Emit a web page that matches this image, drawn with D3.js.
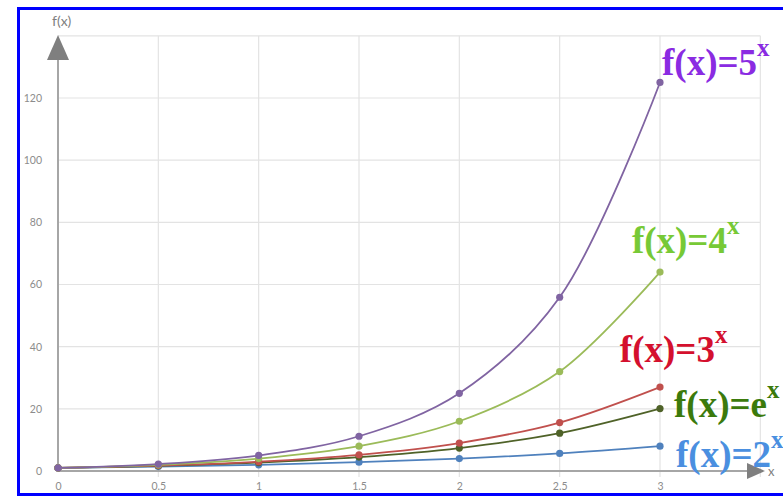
<!DOCTYPE html>
<html>
<head>
<meta charset="utf-8">
<script src="https://cdn.jsdelivr.net/npm/d3@7"></script>
<style>
  body { margin: 0; background: #fff; }
  svg { display: block; }
</style>
</head>
<body>
<div class="chart"></div>
<script>
// data
var xValues = [0, 0.5, 1, 1.5, 2, 2.5, 3]
var pow2 = [1, 1.41, 2, 2.83, 4, 5.66, 8]
var powE = [1, 1.65, 2.72, 4.48, 7.39, 12.18, 20.09]
var pow3 = [1, 1.73, 3, 5.2, 9, 15.59, 27]
var pow4 = [1, 2, 4, 8, 16, 32, 64]
var pow5 = [1, 2.24, 5, 11.18, 25, 55.9, 125]

var xTicks = [0, 0.5, 1, 1.5, 2, 2.5, 3]
var yTicks = [0, 20, 40, 60, 80, 100, 120]
var xGrid = [0.5, 1, 1.5, 2, 2.5, 3, 3.5]
var yGrid = [20, 40, 60, 80, 100, 120, 140]

var seriesBase = ['5', '4', '3', 'e', '2']
var seriesVals = [pow5, pow4, pow3, powE, pow2]

var lineColor = ['#8064a2', '#9bbb59', '#c0504d', '#4f6228', '#4f81bd']
var labelColor = ['#8a2be2', '#77c936', '#d4102e', '#3b7a0c', '#4a8fe0']
// label anchor (data coords) for each series
var labelPos = [[3.01, 127.5], [2.86, 70], [2.8, 35], [3.07, 17.5], [3.08, 1.2]]

var W = 783, H = 498
var svg = d3.select('.chart').append('svg')
    .attr('width', W)
    .attr('height', H)

// scales
var xScale = d3.scaleLinear().domain([0, 3]).range([58, 660])
var yScale = d3.scaleLinear().domain([0, 120]).range([471, 98])

var axisGrey = '#a6a6a6'

// grid
svg.append('g').selectAll('line.h').data(yGrid).enter().append('line')
    .attr('x1', xScale(0)).attr('x2', xScale(3.5))
    .attr('y1', function(d){ return yScale(d) })
    .attr('y2', function(d){ return yScale(d) })
    .attr('stroke', '#e3e3e3').attr('stroke-width', 1.2)

svg.append('g').selectAll('line.v').data(xGrid).enter().append('line')
    .attr('x1', function(d){ return xScale(d) })
    .attr('x2', function(d){ return xScale(d) })
    .attr('y1', yScale(140)).attr('y2', yScale(0) + 6)
    .attr('stroke', '#e3e3e3').attr('stroke-width', 1.2)

// axes (no domain lines, drawn by hand with arrows)
var xAxis = d3.axisBottom(xScale).tickValues(xTicks).tickSize(0).tickPadding(12)
    .tickFormat(function(d){ return d })
var yAxis = d3.axisLeft(yScale).tickValues(yTicks).tickSize(0).tickPadding(16)

var xAx = svg.append('g')
    .attr('transform', 'translate(0,' + yScale(0) + ')')
    .call(xAxis)
xAx.select('.domain').remove()
xAx.selectAll('text').style('font-family', 'Lato, sans-serif').style('font-size', '10.5px').style('fill', '#8c8c8c')

var yAx = svg.append('g')
    .attr('transform', 'translate(' + xScale(0) + ',0)')
    .call(yAxis)
yAx.select('.domain').remove()
yAx.selectAll('text').style('font-family', 'Lato, sans-serif').style('font-size', '10.5px').style('fill', '#8c8c8c')

// axis lines + arrows
svg.append('line')
    .attr('x1', xScale(0)).attr('x2', xScale(0))
    .attr('y1', yScale(0)).attr('y2', 58)
    .attr('stroke', axisGrey).attr('stroke-width', 2)
svg.append('path')
    .attr('d', 'M' + xScale(0) + ',35 L' + (xScale(0) + 11) + ',60 L' + (xScale(0) - 11) + ',60 Z')
    .attr('fill', '#7f7f7f')
svg.append('text')
    .attr('x', 52).attr('y', 26)
    .style('font-family', 'Lato, sans-serif').style('font-size', '14px').style('fill', '#7f7f7f')
    .text('f(x)')

svg.append('line')
    .attr('x1', xScale(0)).attr('x2', 750)
    .attr('y1', yScale(0)).attr('y2', yScale(0))
    .attr('stroke', axisGrey).attr('stroke-width', 2)
svg.append('path')
    .attr('d', 'M765,' + yScale(0) + ' L747,' + (yScale(0) - 8) + ' L747,' + (yScale(0) + 8) + ' Z')
    .attr('fill', '#7f7f7f')
svg.append('text')
    .attr('x', 768).attr('y', 476)
    .style('font-family', 'Lato, sans-serif').style('font-size', '13px').style('fill', '#7f7f7f')
    .text('x')

// series (smooth lines + markers)
var line = d3.line()
    .x(function(d, i){ return xScale(xValues[i]) })
    .y(function(d){ return yScale(d) })
    .curve(d3.curveCatmullRom.alpha(0.5))

// draw from lowest to highest so purple is on top
for (var s = seriesVals.length - 1; s >= 0; s--) {
    var g = svg.append('g')
    g.append('path')
        .attr('d', line(seriesVals[s]))
        .attr('fill', 'none')
        .attr('stroke', lineColor[s])
        .attr('stroke-width', 1.8)
    g.selectAll('circle').data(seriesVals[s]).enter().append('circle')
        .attr('cx', function(d, i){ return xScale(xValues[i]) })
        .attr('cy', function(d){ return yScale(d) })
        .attr('r', 3.6)
        .attr('fill', lineColor[s])
}

// labels f(x)=a^x
for (var s = 0; s < seriesBase.length; s++) {
    var t = svg.append('text')
        .attr('x', xScale(labelPos[s][0]))
        .attr('y', yScale(labelPos[s][1]))
        .style('font-family', '"Liberation Serif", serif')
        .style('font-weight', 'bold')
        .style('font-size', '37px')
        .style('fill', labelColor[s])
    t.append('tspan').text('f(x)=' + seriesBase[s])
    t.append('tspan')
        .attr('dy', -19)
        .style('font-size', '25px')
        .text('x')
}

// blue frame
svg.append('rect')
    .attr('x', 18.5).attr('y', 8.5)
    .attr('width', 820).attr('height', 486)
    .attr('fill', 'none')
    .attr('stroke', '#0000ff')
    .attr('stroke-width', 3)
</script>
</body>
</html>
